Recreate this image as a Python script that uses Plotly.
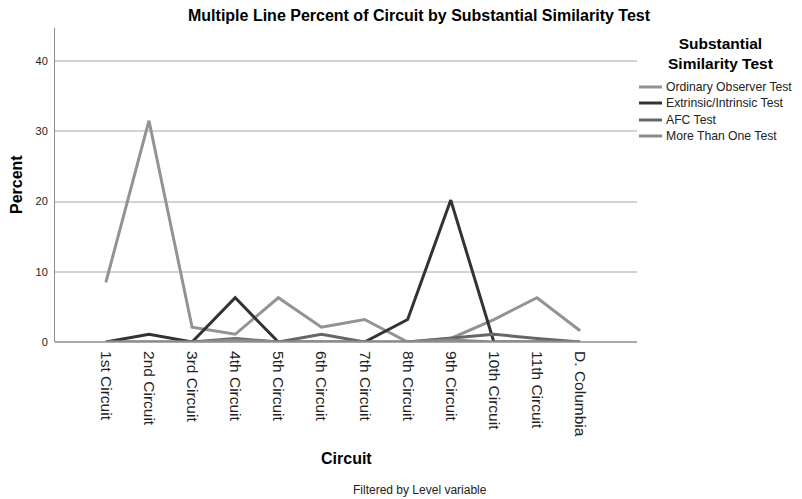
import plotly.graph_objects as go

circuits = ["1st Circuit", "2nd Circuit", "3rd Circuit", "4th Circuit", "5th Circuit",
            "6th Circuit", "7th Circuit", "8th Circuit", "9th Circuit", "10th Circuit",
            "11th Circuit", "D. Columbia"]

ordinary_observer = [8.5, 31.5, 2.1, 1.1, 6.3, 2.1, 3.2, 0.0, 0.5, 3.2, 6.3, 1.6]
extrinsic_intrinsic = [0.0, 1.1, 0.0, 6.3, 0.0, 0.0, 0.0, 3.2, 20.2, 0.0, 0.0, 0.0]
afc_test = [0.0, 0.0, 0.0, 0.5, 0.0, 1.1, 0.0, 0.0, 0.5, 1.1, 0.5, 0.0]
more_than_one = [0.0, 0.0, 0.0, 0.3, 0.0, 0.0, 0.0, 0.0, 0.3, 0.0, 0.0, 0.0]

series_names = ["Ordinary Observer Test", "Extrinsic/Intrinsic Test", "AFC Test", "More Than One Test"]
series_values = [ordinary_observer, extrinsic_intrinsic, afc_test, more_than_one]
series_colors = ["#939393", "#333333", "#666666", "#8a8a8a"]

y_ticks = [0, 10, 20, 30, 40]

FONT = "Liberation Sans, Arial, sans-serif"

fig = go.Figure()
for name, vals, col in zip(series_names, series_values, series_colors):
    fig.add_trace(go.Scatter(x=list(range(len(circuits))), y=vals, mode="lines", name=name,
                             line=dict(color=col, width=3), showlegend=False))

# page body has an 8px margin, so the figure is 8px smaller and margins offset accordingly
fig.update_layout(
    template="none",
    width=794, height=491,
    margin=dict(l=47, r=165, t=20, b=157),
    paper_bgcolor="white", plot_bgcolor="white",
    font=dict(family=FONT, color="#000000"),
    showlegend=False,
    xaxis=dict(range=[-1.18, 12.32], tickmode="array",
               tickvals=list(range(len(circuits))), ticktext=circuits,
               tickangle=90, tickfont=dict(size=15.5, color="#222222"),
               showgrid=False, zeroline=False, showline=False,
               ticks="outside", ticklen=5, tickcolor="rgba(0,0,0,0)", automargin=False),
    yaxis=dict(range=[0, 44.7], tickvals=y_ticks, tickfont=dict(size=11, color="#222222"),
               showgrid=True, gridcolor="#d3d3d3", gridwidth=1.5,
               zeroline=False, showline=True, linecolor="#8c8c8c", linewidth=1,
               ticks="outside", ticklen=4, tickcolor="rgba(0,0,0,0)", automargin=False),
)

# x axis baseline
fig.add_shape(type="line", xref="paper", yref="paper", x0=0, x1=1, y0=0, y1=0,
              line=dict(color="#8c8c8c", width=1.5))

# chart title
fig.add_annotation(text="<b>Multiple Line Percent of Circuit by Substantial Similarity Test</b>",
                   xref="paper", yref="paper", x=0.627, xanchor="center", y=1, yshift=13,
                   yanchor="middle", showarrow=False, font=dict(size=16, color="#000000"))

# axis titles
fig.add_annotation(text="<b>Circuit</b>", xref="paper", yref="paper", x=0.5, xanchor="center",
                   y=0, yshift=-116, yanchor="middle", showarrow=False,
                   font=dict(size=16, color="#000000"))
fig.add_annotation(text="<b>Percent</b>", xref="paper", yref="paper", x=0, xshift=-39,
                   xanchor="center", y=0.5, yanchor="middle", textangle=-90, showarrow=False,
                   font=dict(size=16, color="#000000"))

# legend (manual, to match compact SPSS spacing)
fig.add_annotation(text="<b>Substantial<br>Similarity Test</b>", xref="paper", yref="paper",
                   x=1.0, xshift=83, xanchor="center", y=1.0, yshift=-5, yanchor="top",
                   showarrow=False, font=dict(size=15.5, color="#000000"))
legend_offsets = [59, 75, 92, 108]
for name, col, off in zip(series_names, series_colors, legend_offsets):
    fig.add_shape(type="line", xref="paper", yref="paper", xsizemode="pixel", ysizemode="pixel",
                  xanchor=1, yanchor=1, x0=2, x1=25, y0=-off, y1=-off,
                  line=dict(color=col, width=3))
    fig.add_annotation(text=name, xref="paper", yref="paper", x=1, xshift=27, xanchor="left",
                       y=1, yshift=-off, yanchor="middle", showarrow=False,
                       font=dict(size=12.2, color="#222222"))

fig.add_annotation(text="Filtered by Level variable", xref="paper", yref="paper",
                   x=0.627, xanchor="center", y=0, yshift=-148, yanchor="middle",
                   showarrow=False, font=dict(size=12, color="#222222"))

fig.write_html("out.html")
